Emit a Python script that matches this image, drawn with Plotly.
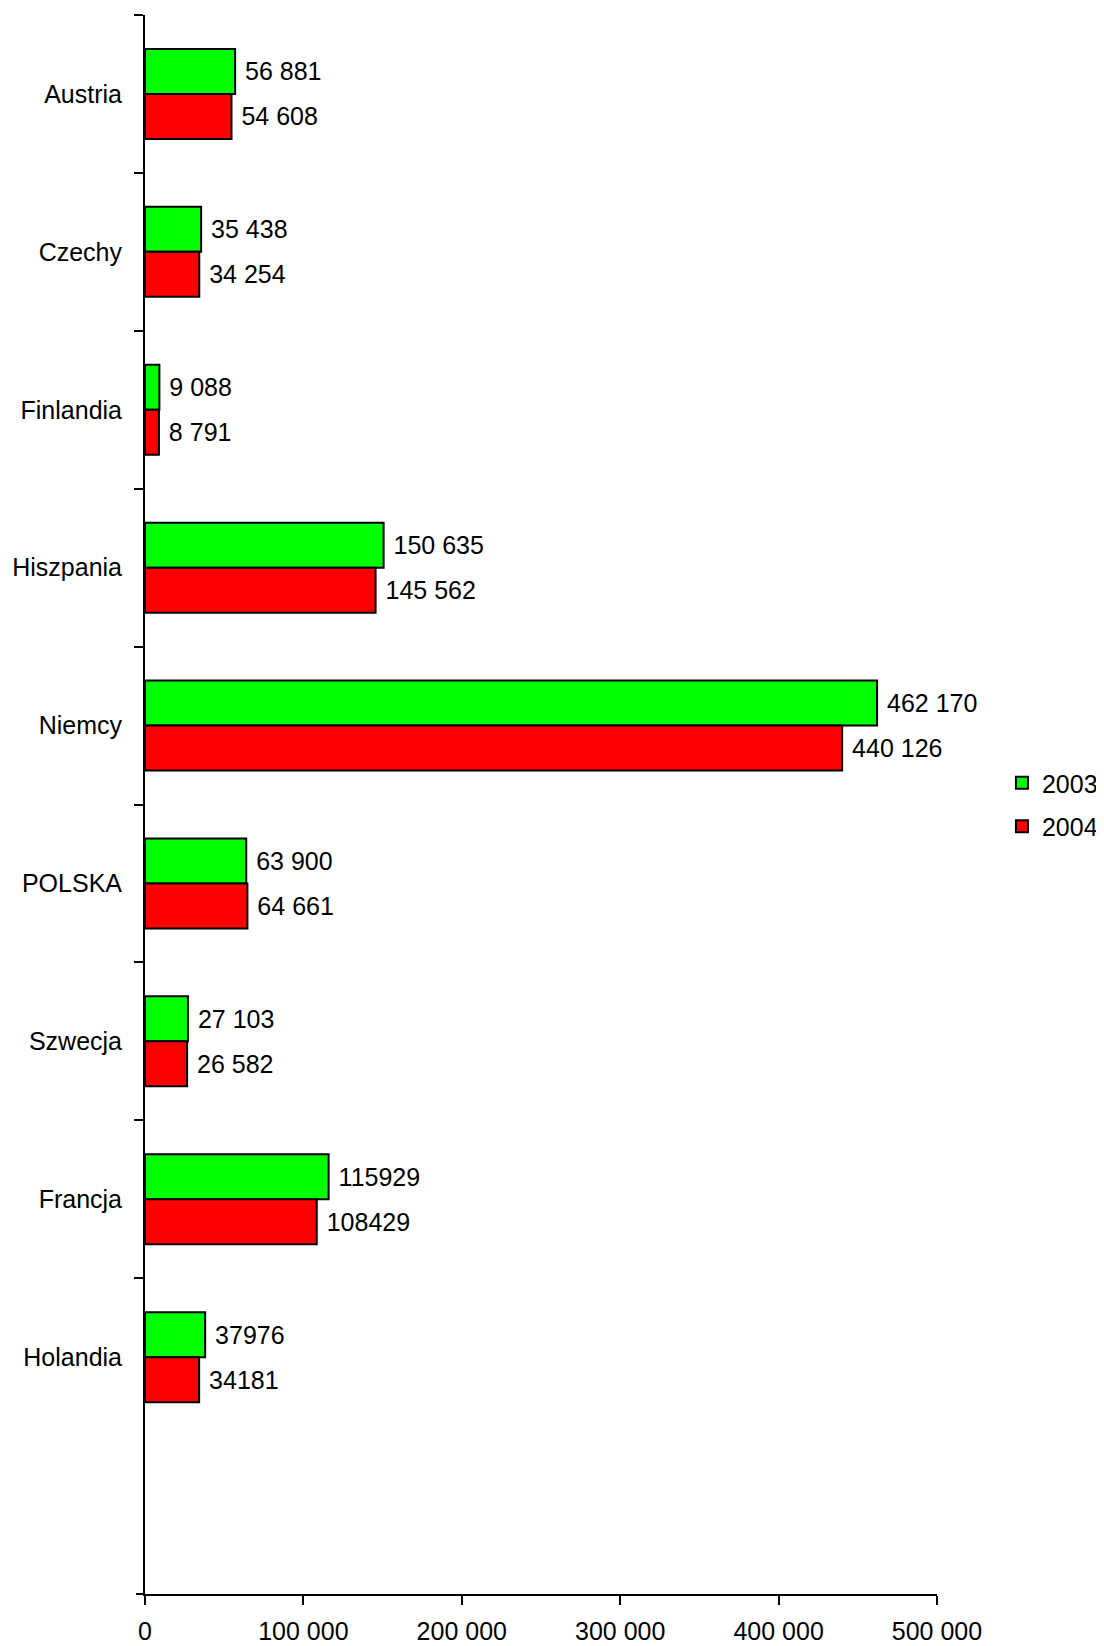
import plotly.graph_objects as go

countries = ["Austria", "Czechy", "Finlandia", "Hiszpania", "Niemcy",
             "POLSKA", "Szwecja", "Francja", "Holandia"]
values_2003 = [56881, 35438, 9088, 150635, 462170, 63900, 27103, 115929, 37976]
values_2004 = [54608, 34254, 8791, 145562, 440126, 64661, 26582, 108429, 34181]
labels_2003 = ["56 881", "35 438", "9 088", "150 635", "462 170", "63 900",
               "27 103", "115929", "37976"]
labels_2004 = ["54 608", "34 254", "8 791", "145 562", "440 126", "64 661",
               "26 582", "108429", "34181"]
x_tickvals = [0, 100000, 200000, 300000, 400000, 500000]
x_ticktext = ["0", "100 000", "200 000", "300 000", "400 000", "500 000"]

FONT = "Liberation Sans, Arial, sans-serif"
FS = 25
PAD = "\u00a0"

fig = go.Figure()
for name, vals, labs, color in [("2003", values_2003, labels_2003, "#00FF00"),
                                ("2004", values_2004, labels_2004, "#FF0000")]:
    fig.add_trace(go.Bar(
        name=name, y=countries, x=vals, orientation="h",
        marker=dict(color=color, line=dict(color="black", width=2)),
        text=[PAD + t for t in labs], textposition="outside",
        textfont=dict(family=FONT, size=FS, color="black"),
        outsidetextfont=dict(family=FONT, size=FS, color="black"),
        constraintext="none", cliponaxis=False, legendgroup=name,
    ))

# page body has an 8px margin: figure sits at (8, 8) on the page
fig.update_layout(
    width=1096, height=1638,
    margin=dict(l=137, r=167, t=7, b=52, autoexpand=False),
    paper_bgcolor="white", plot_bgcolor="white",
    barmode="group", bargap=0.43, bargroupgap=0,
    font=dict(family=FONT, size=FS, color="black"),
    showlegend=True,
    legend=dict(x=1.082, xanchor="left", y=0.5, yanchor="middle",
                traceorder="grouped", tracegroupgap=8,
                font=dict(family=FONT, size=FS, color="black"),
                bgcolor="rgba(0,0,0,0)"),
    xaxis=dict(range=[0, 500000], tickvals=x_tickvals, ticktext=x_ticktext,
               showgrid=False, zeroline=False, showline=True, linecolor="black",
               linewidth=2, ticks="outside", ticklen=9, tickwidth=2,
               tickcolor="black", ticklabelstandoff=5,
               tickfont=dict(family=FONT, size=FS, color="black")),
    yaxis=dict(type="category", categoryorder="array", categoryarray=countries,
               range=[len(countries) + 0.5, -0.5], tickson="boundaries",
               showgrid=False, zeroline=False, showline=True, linecolor="black",
               linewidth=2, ticks="outside", ticklen=9, tickwidth=2,
               tickcolor="black", ticklabelstandoff=16,
               tickfont=dict(family=FONT, size=FS, color="black")),
)

fig.add_shape(type="line", xref="paper", yref="paper",
              x0=-9 / 792, x1=0, y0=0, y1=0,
              line=dict(color="black", width=2))

fig.write_html("out.html")
